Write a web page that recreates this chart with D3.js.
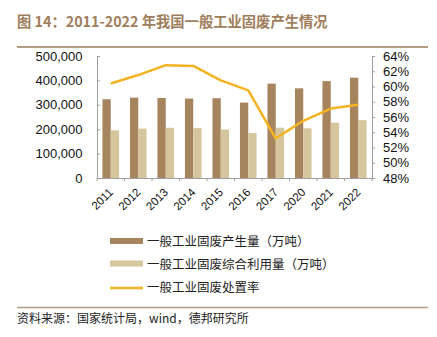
<!DOCTYPE html>
<html>
<head>
<meta charset="utf-8">
<script src="https://cdnjs.cloudflare.com/ajax/libs/d3/7.8.5/d3.min.js"></script>
<style>
  body { margin: 0; background: #fff; }
  svg { display: block; }
</style>
</head>
<body>
<div id="chart"></div>
<script>
var years = ["2011", "2012", "2013", "2014", "2015", "2016", "2017", "2020", "2021", "2022"];
var produced = [322800, 329000, 327700, 325600, 327100, 309200, 386800, 367500, 397000, 411000];
var utilized = [195200, 202500, 205900, 204300, 198800, 184100, 206100, 203800, 226700, 237000];
var disposalRate = [60.4, 61.5, 62.8, 62.7, 60.8, 59.5, 53.2, 55.5, 57.1, 57.6];
var leftTicks = [0, 100000, 200000, 300000, 400000, 500000];
var rightTicks = [48, 50, 52, 54, 56, 58, 60, 62, 64];
var legendNames = ["一般工业固废产生量（万吨）", "一般工业固废综合利用量（万吨）", "一般工业固废处置率"];

var W = 437, H = 337;
var cjk = "'Noto Sans CJK SC', sans-serif";
var latin = "'Liberation Sans', Arial, sans-serif";
var brown = "#a6845e", sand = "#d6c69d", gold = "#f5b324", axisGray = "#a0a0a0";

var svg = d3.select("#chart").append("svg").attr("width", W).attr("height", H);

// header
svg.append("text")
  .attr("x", 17).attr("y", 27)
  .style("font-family", cjk).style("font-weight", "bold").style("font-size", "14.3px")
  .attr("fill", "#a07e5c")
  .text("图 14：2011-2022 年我国一般工业固废产生情况");
svg.append("line")
  .attr("x1", 17).attr("x2", 428).attr("y1", 47).attr("y2", 47)
  .attr("stroke", "#b59b82").attr("stroke-width", 2);

var plotLeft = 97, plotRight = 372, plotTop = 56, plotBottom = 178;

var x = d3.scaleBand().domain(years).range([plotLeft, plotRight]).paddingInner(0).paddingOuter(0);
var yL = d3.scaleLinear().domain([0, 500000]).range([plotBottom, plotTop]);
var yR = d3.scaleLinear().domain([48, 64]).range([plotBottom, plotTop]);
var barW = 8.3;

// bars
var g = svg.append("g");
g.selectAll(".prod").data(produced).enter().append("rect")
  .attr("x", function(d, i) { return x(years[i]) + x.bandwidth() / 2 - barW; })
  .attr("y", function(d) { return yL(d); })
  .attr("width", barW)
  .attr("height", function(d) { return plotBottom - yL(d); })
  .attr("fill", brown);
g.selectAll(".util").data(utilized).enter().append("rect")
  .attr("x", function(d, i) { return x(years[i]) + x.bandwidth() / 2; })
  .attr("y", function(d) { return yL(d); })
  .attr("width", barW)
  .attr("height", function(d) { return plotBottom - yL(d); })
  .attr("fill", sand);

// disposal rate line
var line = d3.line()
  .x(function(d, i) { return x(years[i]) + x.bandwidth() / 2; })
  .y(function(d) { return yR(d); });
svg.append("path").datum(disposalRate)
  .attr("d", line)
  .attr("fill", "none").attr("stroke", gold).attr("stroke-width", 2.5)
  .attr("stroke-linejoin", "round");

// axes
var leftAxis = svg.append("g").attr("transform", "translate(" + plotLeft + ",0)")
  .call(d3.axisLeft(yL).tickValues(leftTicks).tickSize(-3).tickPadding(14.5)
    .tickFormat(d3.format(",")));
var rightAxis = svg.append("g").attr("transform", "translate(" + plotRight + ",0)")
  .call(d3.axisRight(yR).tickValues(rightTicks).tickSize(3).tickPadding(8)
    .tickFormat(function(d) { return d + "%"; }));
var bottomAxis = svg.append("g").attr("transform", "translate(0," + plotBottom + ")")
  .call(d3.axisBottom(x).tickSize(0).tickPadding(0));

[leftAxis, rightAxis, bottomAxis].forEach(function(a) {
  a.select(".domain").attr("stroke", axisGray);
  a.selectAll(".tick line").attr("stroke", axisGray);
  a.selectAll("text").style("font-family", latin).style("font-size", "13px").attr("fill", "#111");
});

// category boundary ticks
svg.append("g").selectAll("line").data(d3.range(years.length + 1)).enter().append("line")
  .attr("x1", function(i) { return plotLeft + i * x.bandwidth(); })
  .attr("x2", function(i) { return plotLeft + i * x.bandwidth(); })
  .attr("y1", plotBottom).attr("y2", plotBottom + 3)
  .attr("stroke", axisGray);

bottomAxis.selectAll(".tick text")
  .style("font-size", "11.5px")
  .attr("text-anchor", "end")
  .attr("dy", null).attr("y", 0)
  .attr("transform", "translate(3,15) rotate(-45)");

// legend
var legend = svg.append("g");
[0, 1].forEach(function(i) {
  legend.append("rect")
    .attr("x", 110).attr("y", 238 + i * 22.5).attr("width", 33).attr("height", 6)
    .attr("fill", i === 0 ? brown : sand);
});
legend.append("line")
  .attr("x1", 110).attr("x2", 143).attr("y1", 288).attr("y2", 288)
  .attr("stroke", gold).attr("stroke-width", 2.5);
legendNames.forEach(function(n, i) {
  legend.append("text")
    .attr("x", 147).attr("y", 245.5 + i * 23)
    .style("font-family", cjk).style("font-size", "12.5px").attr("fill", "#222")
    .text(n);
});

// footer
svg.append("line")
  .attr("x1", 17).attr("x2", 428).attr("y1", 307.5).attr("y2", 307.5)
  .attr("stroke", "#b59b82").attr("stroke-width", 1.5);
svg.append("text")
  .attr("x", 17).attr("y", 322.5)
  .style("font-family", cjk).style("font-size", "12px").attr("fill", "#222")
  .text("资料来源：国家统计局，wind，德邦研究所");
</script>
</body>
</html>
